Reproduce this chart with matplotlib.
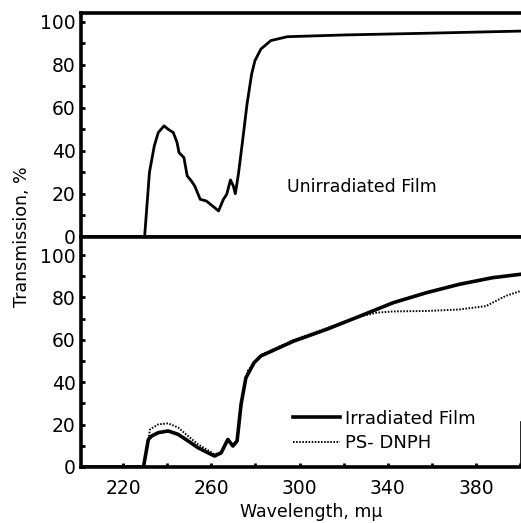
import matplotlib
matplotlib.use("Agg")
import matplotlib.pyplot as plt
import numpy as np

# Unirradiated film (top panel)
wl_unirr = [200, 229.8, 232, 234.2, 236, 238.6, 240.5, 242.8, 244.5, 245.4, 247.6, 249.1, 251, 252.5,
            255, 257.8, 260, 263.3, 265.5, 267, 268.7, 270, 270.9, 272.3, 274.2, 276.2, 278.3,
            279.8, 282.5, 287, 294.5, 320, 357.4, 400]
tr_unirr = [0, 0, 30, 42.3, 48.5, 51.6, 50, 48.5, 43.9, 39.2, 36.9, 28.4, 26, 23.7,
            17.5, 16.7, 14.9, 12.1, 17.5, 19.8, 26.5, 23.7, 20.1, 29.2, 44.7, 61.7, 75.7,
            81.9, 87.3, 91.2, 93.0, 93.8, 94.6, 95.6]

# Irradiated film (bottom panel, solid)
wl_irr = [200, 229.3, 231.5, 233, 236, 240.5, 245, 249.5, 254, 258.5, 261.5, 264.5, 267.5, 269.8,
          271.7, 273.5, 275.7, 279.4, 282.5, 297.4, 312.4, 327.4, 342.4, 357.4, 372.4, 387.4, 400]
tr_irr = [0, 0, 13, 14.6, 16.2, 17, 15.4, 12.3, 9.1, 6.7, 5.2, 6.7, 13, 9.9,
          12.3, 29.6, 42.1, 49.2, 52.4, 59.4, 65, 71.2, 77.5, 82.2, 86.2, 89.3, 90.9]

# PS-DNPH (bottom panel, dotted)
wl_dnph = [229.3, 232.3, 236, 240.5, 245, 249.5, 254, 258.5, 261.5, 264.5, 267.5, 269.8, 271.7,
           274.2, 276.5, 280, 282.5, 297.4, 312.4, 327.4, 335, 342.4, 357.4, 372.4, 384.4,
           393.4, 400]
tr_dnph = [0, 17.8, 20.1, 20.6, 18.6, 14.6, 10.7, 7.9, 6, 6.9, 13, 9.9, 12.3,
           34.3, 45.3, 50, 52.8, 60, 65.5, 71, 72.8, 73.4, 73.6, 74.3, 75.9,
           80.7, 83]

xticks = [220, 260, 300, 340, 380]
yticks = [0, 20, 40, 60, 80, 100]

W, H = 521, 523
fig = plt.figure(figsize=(W / 100, H / 100), dpi=100)
left = 81 / W
right = 1.0
y_top, y_mid, y_bot = 13, 237, 467
ax1 = fig.add_axes([left, 1 - y_mid / H, right - left, (y_mid - y_top) / H])
ax2 = fig.add_axes([left, 1 - y_bot / H, right - left, (y_bot - y_mid) / H])

lw_spine = 2.6
for ax in (ax1, ax2):
    ax.set_xlim(201, 400.3)
    for s in ("left", "top", "bottom"):
        ax.spines[s].set_linewidth(lw_spine)
    ax.spines["right"].set_visible(False)
    ax.set_yticks(yticks)
    ax.set_yticks(np.arange(0, 101, 10), minor=True)
    ax.tick_params(axis="y", which="both", direction="in", length=3, width=2, pad=4,
                   labelsize=13.5)
    ax.tick_params(axis="y", which="minor", length=3)

ax1.set_ylim(0, 104)
ax2.set_ylim(0, 108.5)

ax1.plot(wl_unirr, tr_unirr, color="black", lw=2.0, solid_joinstyle="round")
ax1.set_xticks([])
t = ax1.text(0, 0, "Unirradiated Film", transform=None, fontsize=12.5, va="center", ha="left")
t.set_position((287, H - 187))

ax2.plot(wl_irr, tr_irr, color="black", lw=2.6, solid_joinstyle="round", label="Irradiated Film")
ax2.plot(wl_dnph, tr_dnph, color="black", lw=1.4, linestyle=(0, (0.8, 0.8)), label="PS- DNPH")

ax2.set_xticks(xticks)
ax2.set_xticks(np.arange(220, 401, 20), minor=True)
ax2.tick_params(axis="x", which="both", direction="in", length=3, width=2, pad=9, labelsize=13.5)
ax2.spines["right"].set_visible(True)
ax2.spines["right"].set_linewidth(1.2)
ax2.spines["right"].set_bounds(0, 21)

leg = ax2.legend(loc="lower left", bbox_to_anchor=((293 - 81) / (W - 81), (467 - 452) / 230),
                 frameon=False, fontsize=13, handlelength=2.6, handletextpad=0.3,
                 labelspacing=0.35, borderaxespad=0, borderpad=0)

fig.text(311 / W, 1 - 512 / H, "Wavelength, m\u03bc", ha="center", va="center", fontsize=12.5)
fig.text(22 / W, 1 - 237 / H, "Transmission, %", ha="center", va="center", rotation=90,
         fontsize=12.5)

fig.savefig("out.png", dpi=100)
